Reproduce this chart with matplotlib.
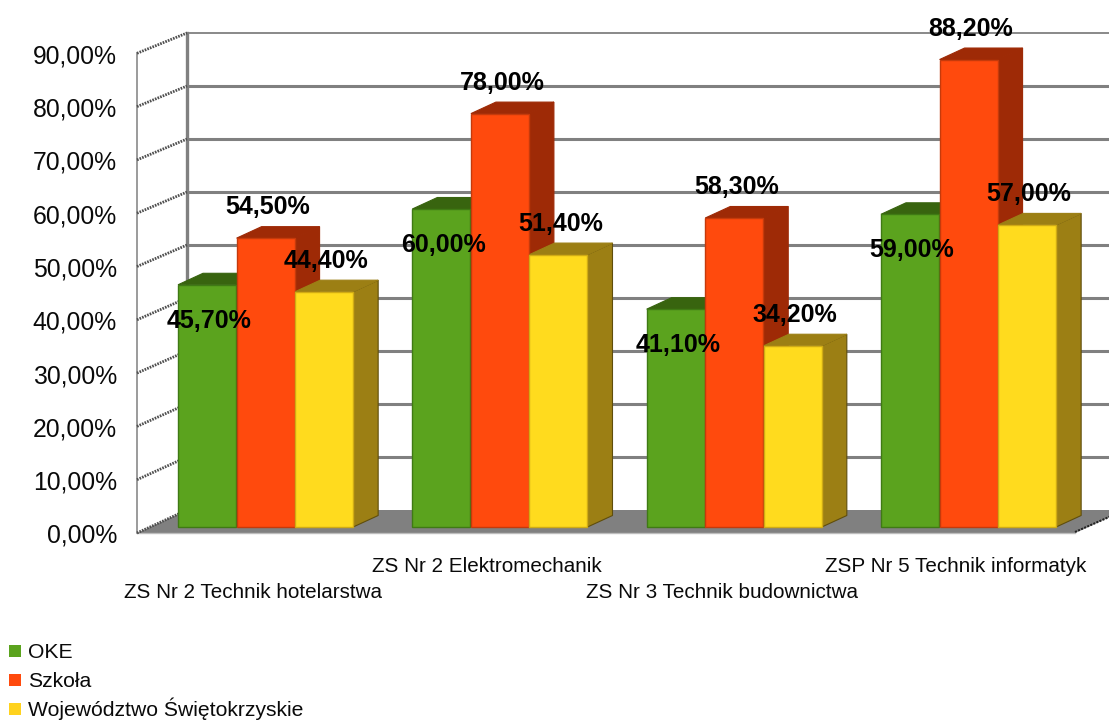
import matplotlib
matplotlib.use("Agg")
import matplotlib.pyplot as plt
from matplotlib.patches import Rectangle

plt.rcParams['font.family'] = ['Liberation Sans', 'DejaVu Sans']

categories = ["ZS Nr 2 Technik hotelarstwa", "ZS Nr 2 Elektromechanik",
              "ZS Nr 3 Technik budownictwa", "ZSP Nr 5 Technik informatyk"]
oke = [45.7, 60.0, 41.1, 59.0]
szkola = [54.5, 78.0, 58.3, 88.2]
wojewodztwo = [44.4, 51.4, 34.2, 57.0]
series_names = ["OKE", "Szkoła", "Województwo Świętokrzyskie"]
y_ticks = [0, 10, 20, 30, 40, 50, 60, 70, 80, 90]

W, H = 1109, 720
PX_X = 234.33   # pixels per category
PX_Y = 5.3      # pixels per percent
X0, Y0 = 178, 527  # pixel of x=0, y=0

fig = plt.figure(figsize=(W / 100, H / 100), dpi=100)
ax = fig.add_axes([0, 0, 1, 1])
ax.set_xlim(-X0 / PX_X, (W - X0) / PX_X)
ax.set_ylim(-(H - Y0) / PX_Y, Y0 / PX_Y)
ax.axis("off")

px = lambda d: d / PX_X   # horizontal pixel length in data units
py = lambda d: d / PX_Y   # vertical pixel length in data units
fmt = lambda v: f"{v:.2f}%".replace(".", ",")

GREY = "#808080"
# floor and back wall offsets relative to the bars' front plane
back_x, back_y = px(187 - X0), py(Y0 - 510)
front_x, front_y = px(137 - X0), py(Y0 - 533)
front_k = 5.33 / PX_Y
right_front = px(1075 - X0)
right_back = px(1125 - X0)

# floor
ax.fill([front_x, right_front, right_back, back_x],
        [front_y, front_y, back_y, back_y], color=GREY, lw=0, zorder=1)
ax.plot([front_x, right_front], [front_y, front_y], color="#bdbdbd", lw=1, zorder=1.1)

# walls, grid
top = y_ticks[-1]
ax.plot([back_x, back_x], [back_y, back_y + top], color=GREY, lw=2.4, zorder=1.2)
ax.plot([front_x, front_x], [front_y, front_y + top * front_k], color=GREY, lw=1.1, zorder=1.2)
for t in y_ticks:
    if t > 0:
        ax.plot([back_x, ax.get_xlim()[1]], [back_y + t, back_y + t], color=GREY,
                lw=1.3 if t == top else 2.2, zorder=1.2, solid_capstyle="butt")
    ax.plot([front_x, back_x], [front_y + t * front_k, back_y + t], color="#4f4f4f", lw=2.0,
            ls=(0, (0.6, 0.4)), zorder=1.3)
    ax.text(px(117 - X0), py(Y0 - 536) + t * front_k, fmt(t), ha="right", va="center",
            fontsize=17.8, color="#0a0a0a", zorder=6)
ax.plot([right_front, right_back], [front_y + py(1), back_y], color="#222222", lw=1.5,
        ls=(0, (1, 0.6)), zorder=1.3)

# bars
step = 0.25
width = 0.2475
depth_x, depth_y = px(25), py(11.5)
styles = [("#5ba31e", "#38640f", "#3f7a14"),
          ("#ff4a0d", "#9e2a06", "#c53a0b"),
          ("#ffdb1e", "#9c7f14", "#d0ab14")]
series = [oke, szkola, wojewodztwo]
label_shift = [-6.8, 5.8, 5.8]

for i in range(len(categories)):
    for j, vals in enumerate(series):
        v = vals[i]
        x = i + j * step
        face, dark, edge = styles[j]
        z = 2 + j * 0.1 + i
        ax.fill([x + width, x + width + depth_x, x + width + depth_x, x + width],
                [0, depth_y, v + depth_y, v], color=dark, ec="#5f4d0c" if j == 2 else dark, lw=0.8, zorder=z)
        ax.fill([x, x + depth_x, x + width + depth_x, x + width],
                [v, v + depth_y, v + depth_y, v], color=dark, ec=dark, lw=0.8, zorder=z)
        ax.bar(x, v, width=width, align="edge", color=face, edgecolor=edge, linewidth=1.0, zorder=z + 0.05)
        ax.text(x + width / 2 + px(2), v + label_shift[j], fmt(v), ha="center", va="center",
                fontsize=18, fontweight="bold", color="black", zorder=20)

# category labels, staggered on two rows
for i, c in enumerate(categories):
    row = py(Y0 - 592) if i % 2 == 0 else py(Y0 - 566)
    ax.text(i + 1.5 * step - px(13), row, c, ha="center", va="center", fontsize=14.9,
            color="#0a0a0a", zorder=6)

# legend, evenly spaced rows
legend_rows = [651, 680, 709]
legend_colors = [styles[0][0], styles[1][0], "#ffd21e"]
for name, colour, row in zip(series_names, legend_colors, legend_rows):
    ax.add_patch(Rectangle((px(9 - X0), py(Y0 - row - 6)), px(12), py(12), facecolor=colour,
                           edgecolor="none", zorder=6))
    ax.text(px(28 - X0), py(Y0 - row - 7), name, ha="left", va="baseline", fontsize=15.2,
            color="#0a0a0a", zorder=6)

fig.savefig("out.png", dpi=100)
